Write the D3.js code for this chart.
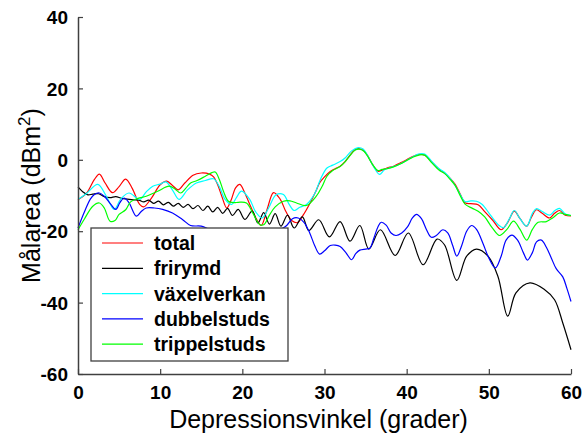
<!DOCTYPE html>
<html><head><meta charset="utf-8">
<script src="https://cdn.jsdelivr.net/npm/d3@7"></script>
<style>
html,body{margin:0;padding:0;background:#fff;}
svg{display:block;font-family:Arial,"Liberation Sans",sans-serif;}
</style></head>
<body><svg id="chart" width="583" height="436"></svg>
<script>
const seriesNames = ["total","frirymd","växelverkan","dubbelstuds","trippelstuds"];
const seriesColors = ["#ff0000","#000000","#00ffff","#0000ff","#00ff00"];
const xTicks = [0,10,20,30,40,50,60];
const yTicks = [-60,-40,-20,0,20,40];

const total = [[0,-11.2],[1,-9.5],[2,-5.5],[2.6,-4],[3.3,-6.5],[4.2,-9.2],[5,-7.5],[5.8,-5.4],[6.6,-8],[7.5,-12.5],[8,-13.2],[9,-10.5],[10,-7],[10.8,-6],[11.5,-7.2],[12.2,-8.4],[13,-6.5],[14,-4.3],[15,-3.7],[16,-4],[16.5,-4.8],[17,-7],[17.5,-10.2],[18.1,-13.5],[18.6,-11.5],[19.2,-7.8],[19.7,-6.9],[20.3,-9.3],[21,-13],[21.7,-16.5],[22.3,-18.4],[23,-14],[23.8,-9.2],[24.6,-11],[25.3,-14.5],[26,-17],[26.7,-17.6],[27.4,-15.5],[28.2,-12.3],[29,-8.5],[29.4,-6.5],[30,-4.8],[30.7,-3.3],[31.3,-2.5],[31.9,-1.8],[32.5,-0.5],[33.1,1.3],[33.7,2.8],[34.3,3.1],[34.8,2.5],[35.3,1],[35.9,-1.5],[36.5,-3.2],[37,-2.9],[37.6,-2.3],[38.4,-1.8],[39.2,-0.9],[40,0],[40.8,1],[41.6,1.5],[42.2,1.3],[43,-0.5],[44,-2.8],[44.6,-3.7],[45.3,-5.2],[45.9,-6.9],[46.5,-9.5],[47.1,-12],[47.8,-12.3],[48.7,-12.6],[49.5,-14.5],[50.5,-17],[51.5,-19.6],[52.3,-17.5],[53.1,-14.4],[53.8,-16.5],[54.6,-18.6],[55.2,-16],[55.8,-14],[56.5,-15],[57.4,-16.3],[58,-15],[58.6,-14.2],[59.3,-15.5],[60,-15.7]];

const frirymd = [[0,-7.6],[0.6,-9],[1.2,-9.8],[1.8,-9.6],[2.5,-9.5],[3.2,-10.3],[3.9,-10.6],[4.6,-10.3],[5.3,-10.8],[6,-11],[6.7,-11.2],[7.4,-11.3],[8,-11.8],[8.6,-11.3],[9.2,-12.2],[9.8,-11.6],[10.4,-12.6],[11,-11.9],[11.6,-13],[12.2,-12.2],[12.8,-13.3],[13.4,-12.5],[14,-13.7],[14.6,-12.8],[15.2,-14.2],[15.8,-13],[16.4,-14.6],[17,-13.3],[17.6,-15],[18.2,-13.6],[18.8,-15.6],[19.5,-13.9],[20.3,-16.7],[21.2,-14.4],[21.9,-17.7],[22.6,-14.8],[23.3,-18],[24,-15.1],[24.7,-18.6],[25.5,-15.5],[26.3,-19.1],[27.3,-16],[28.1,-19.8],[29.3,-16.8],[30.6,-21.6],[31.9,-17.3],[33.1,-22.8],[34.3,-18.4],[35.4,-25],[36.8,-19.6],[38.6,-26.8],[40.2,-20.5],[42,-29.4],[43.7,-22.2],[44.6,-23.8],[46.1,-33.8],[47.3,-27],[48.5,-25],[49.9,-27],[51.1,-32.6],[52.3,-43.8],[53.3,-37.3],[55,-34.5],[56.8,-36.4],[58,-39.2],[59,-45.7],[60,-53.2]];

const vaxelverkan = [[0,-11.1],[1,-9.5],[2.4,-6.9],[3.4,-10],[4.4,-13.9],[5.2,-11],[6.2,-9.3],[7.5,-11.1],[8.3,-9],[9.1,-7.4],[10,-6.8],[10.7,-6.2],[11.5,-8.5],[12.3,-11.1],[13.3,-8.5],[14.4,-6.5],[15.5,-5.8],[16.5,-5.3],[17.2,-7.5],[17.9,-11.1],[18.7,-12.5],[19.3,-10.5],[19.9,-8.8],[20.9,-11.1],[21.6,-14.5],[22.4,-16.3],[23.2,-13.5],[24.1,-9.8],[25,-9.7],[25.7,-12.5],[26.3,-14.2],[27,-13.3],[27.8,-12.5],[28.8,-9.5],[29.5,-5.5],[30.3,-2.3],[31,-1.5],[31.9,-0.5],[32.5,0.5],[33.3,2.5],[34.1,3.4],[34.7,3],[35.3,1],[36,-2],[36.7,-4.1],[37.3,-2.8],[38,-2.2],[38.8,-1.6],[39.6,-0.7],[40.5,0.5],[41.4,1.6],[42.2,1.6],[43,-0.3],[44,-2.6],[44.6,-3.5],[45.5,-5.8],[46.3,-8.8],[47.1,-11.7],[47.8,-11.5],[48.5,-11.6],[49.2,-12.5],[50.2,-15.5],[51.3,-18.5],[51.8,-19],[52.5,-16.5],[53.1,-14.2],[53.8,-16.5],[54.6,-18.6],[55.3,-15],[55.8,-13.7],[56.5,-14.5],[57.4,-15.5],[58,-14.3],[58.6,-13.6],[59.3,-15.2],[60,-15.6]];

const dubbelstuds = [[0,-19.1],[0.8,-14.5],[1.5,-11],[2,-9.7],[2.6,-9.3],[3.2,-10.2],[4,-12.5],[4.6,-13.9],[5.1,-12],[5.6,-10.7],[6.2,-12],[7.1,-15.8],[7.7,-14.5],[8.3,-13.5],[9.3,-13.5],[10.3,-13.9],[11.5,-14.9],[12.7,-16.7],[13.7,-18.4],[15,-18.6],[16,-19.5],[17.5,-21],[19,-22],[20.5,-22.5],[22,-22],[23.5,-21],[24.7,-19.5],[25.4,-18.4],[26.1,-16.5],[26.8,-16.3],[27.5,-17.5],[28.2,-20.5],[28.8,-24],[29.4,-26.4],[30,-25.5],[30.7,-24],[31.3,-23.9],[31.9,-24.3],[32.6,-26],[33.3,-28],[33.8,-26.3],[34.3,-25.3],[35,-25],[35.5,-24.8],[36,-22],[36.5,-18.8],[36.9,-17.5],[37.5,-18.3],[38.1,-20.5],[38.7,-21.2],[39.4,-20.5],[40.1,-18.8],[40.7,-16.3],[41.2,-15.3],[41.8,-16.5],[42.4,-19.5],[43,-21.7],[43.6,-21.2],[44.4,-19.6],[45,-20.5],[45.6,-24],[46.1,-27],[46.7,-24],[47.3,-20],[47.9,-18.4],[48.5,-19.5],[49.3,-23.5],[50,-27.5],[50.8,-30.3],[51.5,-27],[52.1,-22.5],[52.8,-21.1],[53.5,-22.5],[54.2,-26],[54.7,-28.1],[55.3,-26],[55.8,-23],[56.4,-22.5],[57,-24.5],[57.6,-27.5],[58.2,-30.5],[59,-32.8],[59.5,-36],[60,-39.7]];

const trippelstuds = [[0,-19.6],[0.8,-16.5],[1.8,-13],[2.6,-12.1],[3.2,-13.5],[3.9,-17.2],[4.5,-17],[5,-15.3],[5.8,-14],[6.4,-11.8],[7.3,-10.8],[8.3,-10.2],[9.7,-8.8],[11.1,-7.4],[11.8,-8.2],[12.5,-9.3],[13.1,-8],[13.7,-6.5],[14.5,-5.8],[15.5,-4.6],[16.3,-3.6],[16.7,-3.4],[17.2,-5.5],[17.7,-8.8],[18.3,-11.6],[19,-12],[19.5,-11.9],[20.5,-12.1],[21.3,-15],[22.1,-18.1],[22.6,-18.2],[23.3,-15.5],[24,-13.2],[25,-11.6],[25.8,-11.5],[26.6,-12.1],[27.8,-12.8],[29,-10.2],[29.7,-7.5],[30.3,-4.6],[31,-3],[31.9,-1.9],[32.5,-0.6],[33.1,1.2],[33.7,2.7],[34.2,3],[34.8,2.4],[35.3,0.8],[35.9,-1.5],[36.5,-3],[37,-2.7],[37.6,-2.5],[38.4,-2],[39.2,-1.2],[40,-0.2],[40.8,0.8],[41.6,1.4],[42.2,1.3],[43,-0.7],[44,-3],[44.6,-3.8],[45.3,-5.5],[45.9,-7.2],[46.5,-10],[47.1,-12.4],[48,-13.6],[48.7,-14.4],[49.5,-16],[50.4,-19],[51.3,-21.2],[52.2,-19.5],[53,-17.2],[53.8,-19.5],[54.6,-22.5],[55.3,-19.5],[56,-17.5],[57,-17.3],[57.8,-16.2],[58.6,-14.9],[59.3,-15.3],[60,-15.6]];

const seriesData = [total, frirymd, vaxelverkan, dubbelstuds, trippelstuds];

const svg = d3.select("#chart");
const L = 78, R = 571, T = 17, B = 374;
const x = d3.scaleLinear().domain([0,60]).range([L,R]);
const y = d3.scaleLinear().domain([-60,40]).range([B,T]);
const axisColor = "#404040";

const line = d3.line().x(d=>x(d[0])).y(d=>y(d[1])).curve(d3.curveCatmullRom.alpha(0.5));
seriesData.forEach((s,i)=>{
  svg.append("path").datum(s).attr("d",line).attr("fill","none")
    .attr("stroke",seriesColors[i]).attr("stroke-width",1.2);
});

// axes
const fmt = d => String(d);
const xAxis = d3.axisBottom(x).tickValues(xTicks).tickFormat(fmt).tickSizeInner(-5).tickSizeOuter(0).tickPadding(12);
const yAxis = d3.axisLeft(y).tickValues(yTicks).tickFormat(fmt).tickSizeInner(-5).tickSizeOuter(0).tickPadding(10);
const gx = svg.append("g").attr("transform",`translate(0,${B})`).call(xAxis);
const gy = svg.append("g").attr("transform",`translate(${L},0)`).call(yAxis);
[gx,gy].forEach(g=>{
  g.select(".domain").attr("stroke",axisColor).attr("stroke-width",1.5);
  g.selectAll(".tick line").attr("stroke",axisColor).attr("stroke-width",1.2);
  g.selectAll(".tick text").attr("fill","#000").style("font-size","19px").style("font-weight","bold")
    .style("font-family","Arial, 'Liberation Sans', sans-serif");
});
gy.selectAll(".tick text").attr("dy","0.35em");

// axis titles
svg.append("text").attr("x",(L+R)/2 - 6).attr("y",428).attr("text-anchor","middle")
  .style("font-size","25px").text("Depressionsvinkel (grader)");
const yt = svg.append("text").attr("transform",`translate(40,${(T+B)/2}) rotate(-90)`)
  .attr("text-anchor","middle").style("font-size","25px");
yt.append("tspan").text("Målarea (dBm");
yt.append("tspan").attr("dy","-10").style("font-size","17px").text("2");
yt.append("tspan").attr("dy","10").text(")");

// legend
const lg = svg.append("g");
lg.append("rect").attr("x",91).attr("y",228).attr("width",197).attr("height",133)
  .attr("fill","#fff").attr("stroke",axisColor).attr("stroke-width",1.3);
seriesNames.forEach((n,i)=>{
  const cy = 243 + i*25.3;
  lg.append("line").attr("x1",102).attr("x2",143).attr("y1",cy).attr("y2",cy)
    .attr("stroke",seriesColors[i]).attr("stroke-width",1.2);
  lg.append("text").attr("x",154).attr("y",cy+7).style("font-size","19.5px").style("font-weight","bold").text(n);
});
</script></body></html>
